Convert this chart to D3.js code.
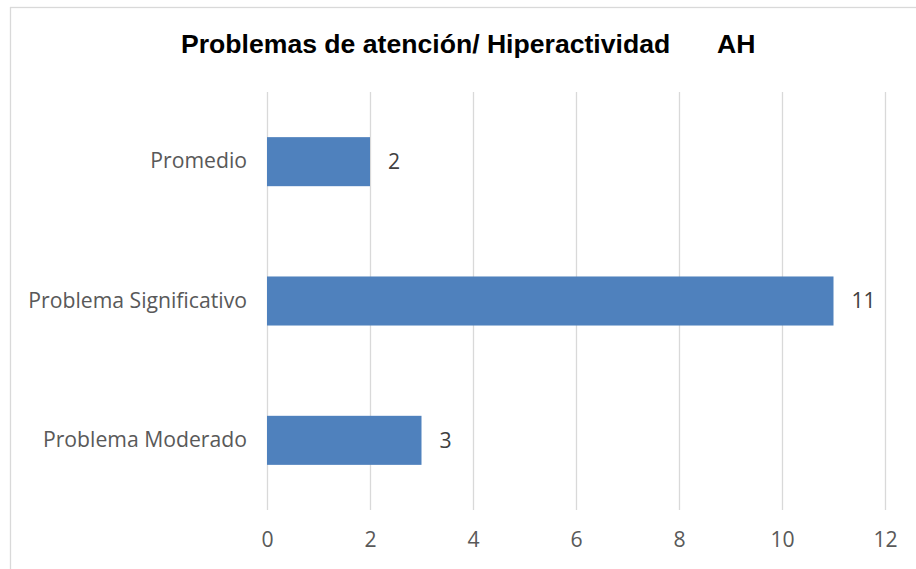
<!DOCTYPE html>
<html><head><meta charset="utf-8">
<script src="https://cdn.jsdelivr.net/npm/d3@7"></script>
<style>body{margin:0;background:#fff}svg{display:block}</style>
</head><body>
<script>
const categories = ["Promedio", "Problema Significativo", "Problema Moderado"];
const values = [2, 11, 3];
const xTicks = [0, 2, 4, 6, 8, 10, 12];
const titleMain = "Problemas de atención/ Hiperactividad";
const titleCode = "AH";

const W = 916, H = 569;
const svg = d3.select("body").append("svg").attr("width", W).attr("height", H);

svg.append("rect").attr("x", 10.5).attr("y", 7.5).attr("width", 1000).attr("height", 700)
  .attr("fill", "#fff").attr("stroke", "#d9d9d9").attr("stroke-width", 1.3);

const x = d3.scaleLinear().domain([0, 12]).range([267, 885]);
const y = d3.scaleBand().domain(categories).range([92, 510]).paddingInner(0.648).paddingOuter(0.324);

const font = "'Open Sans', 'Noto Sans', sans-serif";
const grey = "#595959";
const fs = 21.2;

// gridlines
svg.append("g").selectAll("line").data(xTicks).join("line")
  .attr("x1", d => Math.round(x(d)) + 0.5).attr("x2", d => Math.round(x(d)) + 0.5)
  .attr("y1", 92).attr("y2", 510).attr("stroke", "#d9d9d9").attr("stroke-width", 1.3);

// x axis
const xAxis = svg.append("g").attr("transform", "translate(0,510)")
  .call(d3.axisBottom(x).tickValues(xTicks).tickSize(0).tickPadding(22));
xAxis.select(".domain").remove();
xAxis.selectAll("text").attr("font-family", font).attr("font-size", fs).attr("fill", grey);

// y axis
const yAxis = svg.append("g").attr("transform", "translate(267,0)")
  .call(d3.axisLeft(y).tickSize(0).tickPadding(20));
yAxis.select(".domain").remove();
yAxis.selectAll("text").attr("font-family", font).attr("font-size", fs).attr("fill", grey);

// bars
svg.append("g").selectAll("rect").data(categories).join("rect")
  .attr("x", x(0)).attr("y", d => y(d))
  .attr("width", (d, i) => x(values[i]) - x(0)).attr("height", y.bandwidth())
  .attr("fill", "#4f81bd");

// data labels
svg.append("g").selectAll("text").data(categories).join("text")
  .attr("x", (d, i) => x(values[i]) + 18).attr("y", d => y(d) + y.bandwidth() / 2)
  .attr("dy", "0.35em").attr("font-family", font).attr("font-size", fs).attr("fill", "#404040")
  .text((d, i) => values[i]);

// title
const t = svg.append("text").attr("y", 53)
  .attr("font-family", "'Liberation Sans', Arial, sans-serif").attr("font-weight", "bold")
  .attr("font-size", 26.6).attr("fill", "#000");
t.append("tspan").attr("x", 181).text(titleMain);
t.append("tspan").attr("x", 717).text(titleCode);
</script>
</body></html>
